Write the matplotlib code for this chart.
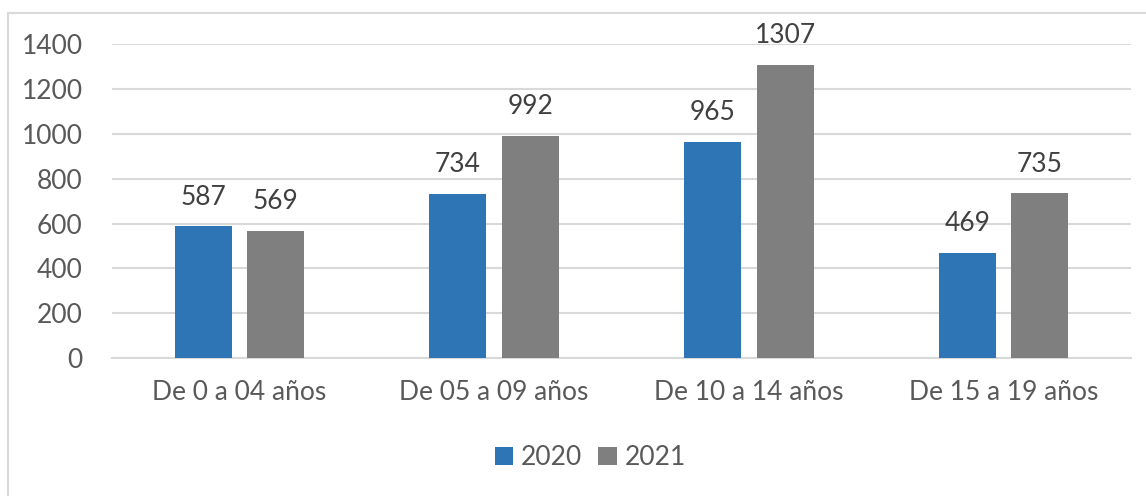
import matplotlib.pyplot as plt
import numpy as np
from matplotlib.lines import Line2D

# Data
categories = ["De 0 a 04 años", "De 05 a 09 años", "De 10 a 14 años", "De 15 a 19 años"]
values_2020 = [587, 734, 965, 469]
values_2021 = [569, 992, 1307, 735]
series_names = ["2020", "2021"]
colors = ["#2E75B6", "#7F7F7F"]

plt.rcParams["font.family"] = ["Lato", "DejaVu Sans"]
text_color = "#595959"

fig = plt.figure(figsize=(11.46, 4.96), dpi=100)
ax = fig.add_axes([0.0977, 0.278, 0.8893, 0.633])

x = np.arange(len(categories))
width = 0.224
offset = 0.142

bars1 = ax.bar(x - offset, values_2020, width, color=colors[0], label=series_names[0], zorder=3)
bars2 = ax.bar(x + offset, values_2021, width, color=colors[1], label=series_names[1], zorder=3)

# value labels above bars
for bars in (bars1, bars2):
    for b in bars:
        ax.annotate(str(int(b.get_height())), (b.get_x() + b.get_width() / 2, b.get_height()),
                    xytext=(0, 12), textcoords="offset points", ha="center", va="bottom",
                    fontsize=19, color="#404040")

ax.set_xlim(-0.5, len(categories) - 0.5)
ax.set_ylim(0, 1400)
ax.set_yticks(range(0, 1401, 200))
ax.set_xticks(x)
ax.set_xticklabels(categories)
ax.tick_params(axis="y", length=0, pad=21, labelsize=19, labelcolor=text_color)
ax.tick_params(axis="x", length=0, pad=16, labelsize=19, labelcolor=text_color)
ax.grid(axis="y", color="#D9D9D9", linewidth=1.5, zorder=0)
for s in ["top", "right", "left"]:
    ax.spines[s].set_visible(False)
ax.spines["bottom"].set_color("#D9D9D9")
ax.spines["bottom"].set_linewidth(1.5)

leg = fig.legend(loc="center", bbox_to_anchor=(0.515, 0.077), ncol=2, frameon=False,
                 fontsize=19, handlelength=0.7, handleheight=0.7, handletextpad=0.3,
                 columnspacing=0.6)
for t in leg.get_texts():
    t.set_color(text_color)

# outer chart border (only top and left visible in the reference)
fig.add_artist(Line2D([8 / 1146, 1], [1 - 13 / 496, 1 - 13 / 496], transform=fig.transFigure,
                      color="#D9D9D9", linewidth=1.5))
fig.add_artist(Line2D([8 / 1146, 8 / 1146], [0, 1 - 13 / 496], transform=fig.transFigure,
                      color="#D9D9D9", linewidth=1.5))

fig.savefig("out.png", dpi=100)
